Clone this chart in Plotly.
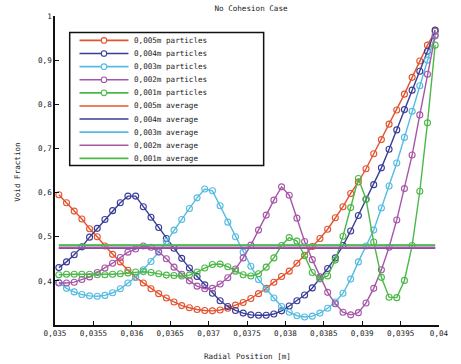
import plotly.graph_objects as go

# ---------------- data ----------------
radial_position = [0.03505, 0.03515, 0.03525, 0.03535, 0.03545, 0.03555, 0.03565, 0.03575, 0.03585, 0.03595,
                   0.03605, 0.03615, 0.03625, 0.03635, 0.03645, 0.03655, 0.03665, 0.03675, 0.03685, 0.03695,
                   0.03705, 0.03715, 0.03725, 0.03735, 0.03745, 0.03755, 0.03765, 0.03775, 0.03785, 0.03795,
                   0.03805, 0.03815, 0.03825, 0.03835, 0.03845, 0.03855, 0.03865, 0.03875, 0.03885, 0.03895,
                   0.03905, 0.03915, 0.03925, 0.03935, 0.03945, 0.03955, 0.03965, 0.03975, 0.03985, 0.03995]

void_005 = [0.595, 0.577, 0.558, 0.540, 0.518, 0.500, 0.479, 0.460, 0.443, 0.424,
            0.408, 0.395, 0.382, 0.371, 0.361, 0.352, 0.344, 0.339, 0.335, 0.333,
            0.332, 0.334, 0.338, 0.345, 0.351, 0.360, 0.371, 0.383, 0.397, 0.410,
            0.422, 0.440, 0.458, 0.478, 0.496, 0.517, 0.543, 0.568, 0.598, 0.624,
            0.654, 0.688, 0.720, 0.755, 0.787, 0.823, 0.861, 0.898, 0.934, 0.965]

void_004 = [0.430, 0.443, 0.459, 0.477, 0.499, 0.519, 0.539, 0.559, 0.577, 0.592,
            0.592, 0.568, 0.544, 0.521, 0.496, 0.474, 0.451, 0.429, 0.410, 0.391,
            0.372, 0.355, 0.342, 0.333, 0.327, 0.323, 0.322, 0.322, 0.325, 0.332,
            0.343, 0.355, 0.368, 0.384, 0.405, 0.428, 0.452, 0.480, 0.513, 0.548,
            0.585, 0.618, 0.656, 0.698, 0.742, 0.788, 0.832, 0.875, 0.920, 0.968]

void_003 = [0.397, 0.383, 0.375, 0.369, 0.366, 0.365, 0.367, 0.373, 0.382, 0.395,
            0.408, 0.425, 0.444, 0.465, 0.489, 0.515, 0.539, 0.564, 0.588, 0.608,
            0.604, 0.570, 0.533, 0.500, 0.465, 0.433, 0.403, 0.381, 0.361, 0.342,
            0.329, 0.321, 0.318, 0.320, 0.327, 0.338, 0.352, 0.372, 0.404, 0.443,
            0.479, 0.515, 0.565, 0.615, 0.667, 0.725, 0.784, 0.842, 0.900, 0.957]

void_002 = [0.395, 0.395, 0.397, 0.403, 0.409, 0.419, 0.429, 0.440, 0.453, 0.465,
            0.472, 0.479, 0.476, 0.466, 0.450, 0.431, 0.415, 0.400, 0.388, 0.382,
            0.383, 0.393, 0.407, 0.427, 0.452, 0.481, 0.515, 0.549, 0.583, 0.613,
            0.594, 0.542, 0.489, 0.448, 0.409, 0.374, 0.348, 0.329, 0.323, 0.328,
            0.350, 0.383, 0.425, 0.476, 0.538, 0.609, 0.685, 0.776, 0.868, 0.955]

void_001 = [0.414, 0.415, 0.415, 0.415, 0.415, 0.414, 0.414, 0.415, 0.416, 0.418,
            0.420, 0.421, 0.419, 0.416, 0.413, 0.412, 0.411, 0.413, 0.420, 0.429,
            0.437, 0.438, 0.432, 0.422, 0.414, 0.411, 0.416, 0.431, 0.452, 0.480,
            0.498, 0.490, 0.457, 0.419, 0.405, 0.411, 0.447, 0.501, 0.566, 0.632,
            0.585, 0.488, 0.408, 0.363, 0.362, 0.401, 0.480, 0.603, 0.758, 0.934]

average_values = [0.4755, 0.4740, 0.4805, 0.4750, 0.4810]
average_span = [0.03505, 0.03995]

particle_labels = ["0,005m particles", "0,004m particles", "0,003m particles",
                   "0,002m particles", "0,001m particles"]
average_labels = ["0,005m average", "0,004m average", "0,003m average",
                  "0,002m average", "0,001m average"]

x_tick_values = [0.035, 0.0355, 0.036, 0.0365, 0.037, 0.0375, 0.038, 0.0385, 0.039, 0.0395, 0.04]
x_tick_labels = ["0,035", "0,0355", "0,036", "0,0365", "0,037", "0,0375", "0,038",
                 "0,0385", "0,039", "0,0395", "0,04"]
y_tick_values = [0.4, 0.5, 0.6, 0.7, 0.8, 0.9, 1.0]
y_tick_labels = ["0,4", "0,5", "0,6", "0,7", "0,8", "0,9", "1"]

# ---------------- style ----------------
colors = ["#e4532f", "#3a3d97", "#55bce0", "#a656a8", "#4cb848"]
FONT = "DejaVu Sans Mono"
FS = 7.6
W, H = 461, 364
ML, MR, MT, MB = 55, 14, 15, 39
PW, PH = W - ML - MR, H - MT - MB


def px(x):
    return (x - ML) / PW


def py(y):
    return (H - MB - y) / PH


series = [void_005, void_004, void_003, void_002, void_001]

fig = go.Figure()
for vals, col, name in zip(series, colors, particle_labels):
    fig.add_trace(go.Scatter(
        x=radial_position, y=vals, mode="lines+markers", name=name,
        line=dict(color=col, width=1.4),
        marker=dict(symbol="circle-open", size=6, color=col, line=dict(width=1.1, color=col)),
        showlegend=False))

for val, col, name in zip(average_values, colors, average_labels):
    fig.add_trace(go.Scatter(
        x=average_span, y=[val, val], mode="lines", name=name,
        line=dict(color=col, width=1.8), showlegend=False))

# ---------------- legend box (drawn in paper coords) ----------------
shapes = []
annotations = []
box_l, box_t, box_r, box_b = 70, 31.5, 268, 165
shapes.append(dict(type="rect", xref="paper", yref="paper",
                   x0=px(box_l), x1=px(box_r), y0=py(box_b), y1=py(box_t),
                   line=dict(color="#111", width=1.5), fillcolor="white", layer="above"))
row0, row_gap = 39.5, 13.15
all_labels = particle_labels + average_labels
for k, lab in enumerate(all_labels):
    col = colors[k % 5]
    yy = row0 + k * row_gap
    shapes.append(dict(type="line", xref="paper", yref="paper",
                       x0=px(80), x1=px(130), y0=py(yy), y1=py(yy),
                       line=dict(color=col, width=1.6), layer="above"))
    if k < 5:
        shapes.append(dict(type="circle", xref="paper", yref="paper",
                           x0=px(105 - 2.8), x1=px(105 + 2.8), y0=py(yy + 2.8), y1=py(yy - 2.8),
                           line=dict(color=col, width=1.1), fillcolor="white", layer="above"))
    annotations.append(dict(text=lab, xref="paper", yref="paper", x=px(134), y=py(yy),
                            xanchor="left", yanchor="middle", showarrow=False,
                            font=dict(family=FONT, size=FS, color="#222")))

annotations.append(dict(text="Void Fraction", xref="paper", yref="paper",
                        x=px(16.5), y=py(172), textangle=-90, xanchor="center", yanchor="middle",
                        showarrow=False, font=dict(family=FONT, size=FS, color="#222")))
annotations.append(dict(text="Radial Position [m]", xref="paper", yref="paper",
                        x=px(251), y=py(357), xanchor="center", yanchor="middle",
                        showarrow=False, font=dict(family=FONT, size=FS, color="#222")))

fig.update_layout(
    width=W, height=H,
    margin=dict(l=ML, r=MR, t=MT, b=MB),
    paper_bgcolor="white", plot_bgcolor="white",
    title=dict(text="No Cohesion Case", x=(ML + PW / 2) / W, xanchor="center",
               y=1 - 8.5 / H, yanchor="middle", yref="container",
               font=dict(family=FONT, size=FS, color="#222")),
    shapes=shapes, annotations=annotations, showlegend=False,
    xaxis=dict(range=[0.035, 0.04], tickvals=x_tick_values, ticktext=x_tick_labels,
               ticks="inside", ticklen=4, tickwidth=1.3, tickcolor="#111",
               showline=True, linecolor="#111", linewidth=1.5, showgrid=False, zeroline=False,
               tickfont=dict(family=FONT, size=FS, color="#222")),
    yaxis=dict(range=[0.3, 1.0], tickvals=y_tick_values, ticktext=y_tick_labels,
               ticks="inside", ticklen=4, tickwidth=1.3, tickcolor="#111",
               showline=True, linecolor="#111", linewidth=1.5, showgrid=False, zeroline=False,
               tickfont=dict(family=FONT, size=FS, color="#222")),
)

fig.write_html("out.html", config={"displayModeBar": False},
               post_script="document.body.style.margin='0px';")
